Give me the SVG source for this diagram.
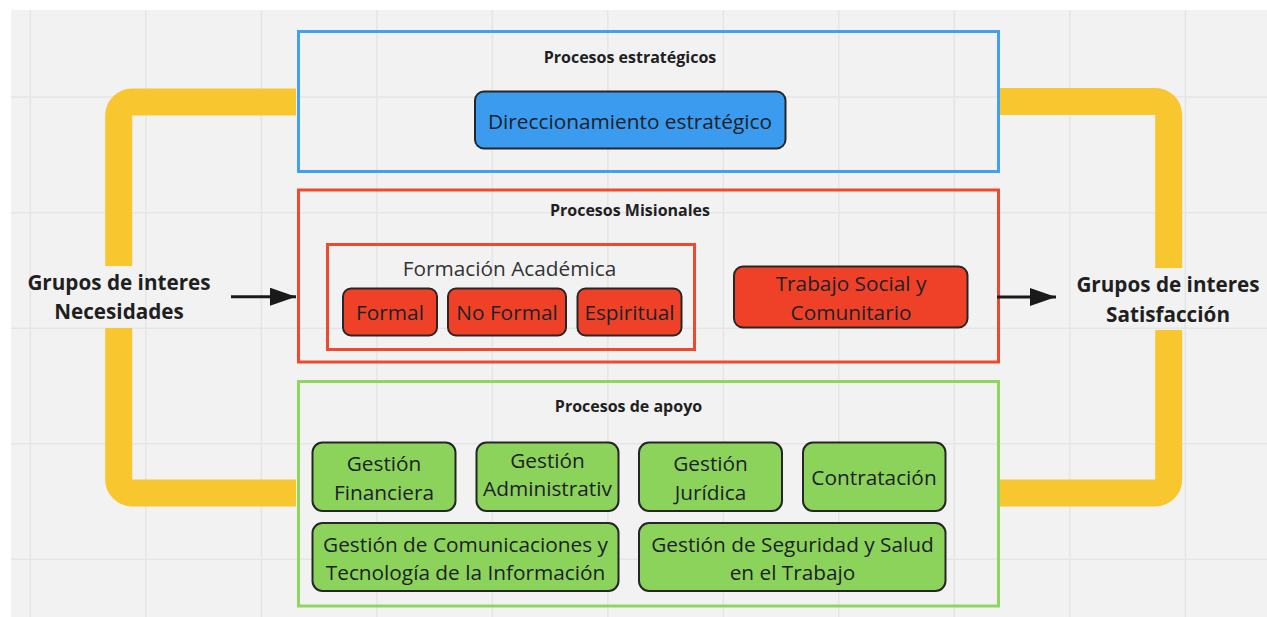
<svg xmlns="http://www.w3.org/2000/svg" width="1267" height="617" viewBox="0 0 1267 617">
<style>
.grid line{stroke:#e5e5e5;stroke-width:1.5}
.yel{fill:none;stroke:#f8c62f;stroke-width:27}
.frame{fill:none;stroke-width:3}
.hdr{font-family:"Open Sans","Noto Sans",sans-serif;font-weight:bold;font-size:16px;fill:#1f1f1f;text-anchor:middle}
.side{font-family:"Open Sans","Noto Sans",sans-serif;font-weight:bold;font-size:20.7px;fill:#1f1f1f;text-anchor:middle}
.lbl{font-family:"Open Sans","Noto Sans",sans-serif;font-size:20.8px;fill:#1c2228;text-anchor:middle}
.sub{font-family:"Open Sans","Noto Sans",sans-serif;font-size:20.8px;fill:#333;text-anchor:middle}
.node{stroke:#262626;stroke-width:2}
.blue{fill:#3b9bef}
.red{fill:#ef4127}
.green{fill:#8cd35c}
.conn{stroke:#1a1a1a;stroke-width:3;fill:none}
</style>
<defs>
<marker id="ah" markerUnits="userSpaceOnUse" markerWidth="28" markerHeight="18" refX="26" refY="9" orient="auto">
<path d="M0,0 L26,9 L0,18 Z" fill="#1a1a1a"/>
</marker>
</defs>
<rect x="0" y="0" width="1267" height="617" fill="#ffffff"/>
<rect x="11" y="10" width="1256" height="607" fill="#f2f2f2"/>
<g class="grid">
<line x1="30.3" y1="10" x2="30.3" y2="617"/>
<line x1="145.8" y1="10" x2="145.8" y2="617"/>
<line x1="261.3" y1="10" x2="261.3" y2="617"/>
<line x1="376.8" y1="10" x2="376.8" y2="617"/>
<line x1="492.3" y1="10" x2="492.3" y2="617"/>
<line x1="607.8" y1="10" x2="607.8" y2="617"/>
<line x1="723.3" y1="10" x2="723.3" y2="617"/>
<line x1="838.8" y1="10" x2="838.8" y2="617"/>
<line x1="954.3" y1="10" x2="954.3" y2="617"/>
<line x1="1069.8" y1="10" x2="1069.8" y2="617"/>
<line x1="1185.3" y1="10" x2="1185.3" y2="617"/>
<line x1="11" y1="97" x2="1267" y2="97"/>
<line x1="11" y1="212.8" x2="1267" y2="212.8"/>
<line x1="11" y1="328.3" x2="1267" y2="328.3"/>
<line x1="11" y1="443.8" x2="1267" y2="443.8"/>
<line x1="11" y1="559.3" x2="1267" y2="559.3"/>
</g>
<g id="brackets">
<path class="yel" d="M296 102 H132.2 A13.5 13.5 0 0 0 118.7 115.5 V266"/>
<path class="yel" d="M118.7 328 V479.5 A13.5 13.5 0 0 0 132.2 493 H296"/>
<path class="yel" d="M1000 101.4 H1155.2 A13.5 13.5 0 0 1 1168.7 114.9 V268"/>
<path class="yel" d="M1168.7 330 V479.5 A13.5 13.5 0 0 1 1155.2 493 H1000"/>
</g>
<g id="estrategicos">
<rect class="frame" x="298.5" y="31.5" width="700" height="140" stroke="#42a0f3"/>
<text class="hdr" x="630" y="63">Procesos estratégicos</text>
</g>
<g id="direccionamiento">
<rect class="node blue" x="475" y="91.5" width="310.5" height="57" rx="9"/>
<text class="lbl" x="630" y="128.5">Direccionamiento estratégico</text>
</g>
<g id="misionales">
<rect class="frame" x="298.5" y="190" width="700" height="172" stroke="#ef4a30"/>
<text class="hdr" x="630" y="216">Procesos Misionales</text>
</g>
<g id="formacion">
<rect class="frame" x="327.5" y="244.5" width="367" height="105" stroke="#ef4a30"/>
<text class="sub" x="509.5" y="275.5">Formación Académica</text>
</g>
<g id="formal">
<rect class="node red" x="343" y="288.5" width="94" height="47" rx="8"/>
<text class="lbl" x="390" y="320">Formal</text>
</g>
<g id="noformal">
<rect class="node red" x="448" y="288.5" width="118" height="47" rx="8"/>
<text class="lbl" x="507" y="320">No Formal</text>
</g>
<g id="espiritual">
<rect class="node red" x="577.5" y="288.5" width="104" height="47" rx="8"/>
<text class="lbl" x="629.5" y="320">Espiritual</text>
</g>
<g id="trabajo">
<rect class="node red" x="734" y="266.5" width="233.5" height="61" rx="9"/>
<text class="lbl" x="851" y="291">Trabajo Social y</text>
<text class="lbl" x="851" y="319.5">Comunitario</text>
</g>
<g id="apoyo">
<rect class="frame" x="298.5" y="381.5" width="700" height="224.5" stroke="#8ed660"/>
<text class="hdr" x="628.5" y="411.5">Procesos de apoyo</text>
</g>
<g id="financiera">
<rect class="node green" x="312.5" y="442.5" width="143" height="68.5" rx="10"/>
<text class="lbl" x="384" y="470.5">Gestión</text>
<text class="lbl" x="384" y="499.5">Financiera</text>
</g>
<g id="administrativa">
<rect class="node green" x="476.5" y="442.5" width="142" height="68.5" rx="10"/>
<text class="lbl" x="547.5" y="467.5">Gestión</text>
<text class="lbl" x="547.5" y="496">Administrativ</text>
</g>
<g id="juridica">
<rect class="node green" x="639" y="442.5" width="143" height="68.5" rx="10"/>
<text class="lbl" x="710.5" y="470.5">Gestión</text>
<text class="lbl" x="710.5" y="499.5">Jurídica</text>
</g>
<g id="contratacion">
<rect class="node green" x="803" y="442.5" width="142.5" height="68.5" rx="10"/>
<text class="lbl" x="874" y="485">Contratación</text>
</g>
<g id="comunicaciones">
<rect class="node green" x="312.5" y="523" width="306" height="68" rx="10"/>
<text class="lbl" x="465.5" y="552">Gestión de Comunicaciones y</text>
<text class="lbl" x="465.5" y="580">Tecnología de la Información</text>
</g>
<g id="seguridad">
<rect class="node green" x="639" y="523" width="306.5" height="68" rx="10"/>
<text class="lbl" x="792.5" y="552">Gestión de Seguridad y Salud</text>
<text class="lbl" x="792.5" y="580">en el Trabajo</text>
</g>
<g id="necesidades">
<text class="side" x="119" y="289.5">Grupos de interes</text>
<text class="side" x="119" y="318.5">Necesidades</text>
</g>
<g id="satisfaccion">
<text class="side" x="1168" y="291.5">Grupos de interes</text>
<text class="side" x="1168" y="321.5">Satisfacción</text>
</g>
<g id="connectors">
<line class="conn" x1="231" y1="296.7" x2="296" y2="296.7" marker-end="url(#ah)"/>
<line class="conn" x1="997" y1="297" x2="1056" y2="297" marker-end="url(#ah)"/>
</g>
</svg>
